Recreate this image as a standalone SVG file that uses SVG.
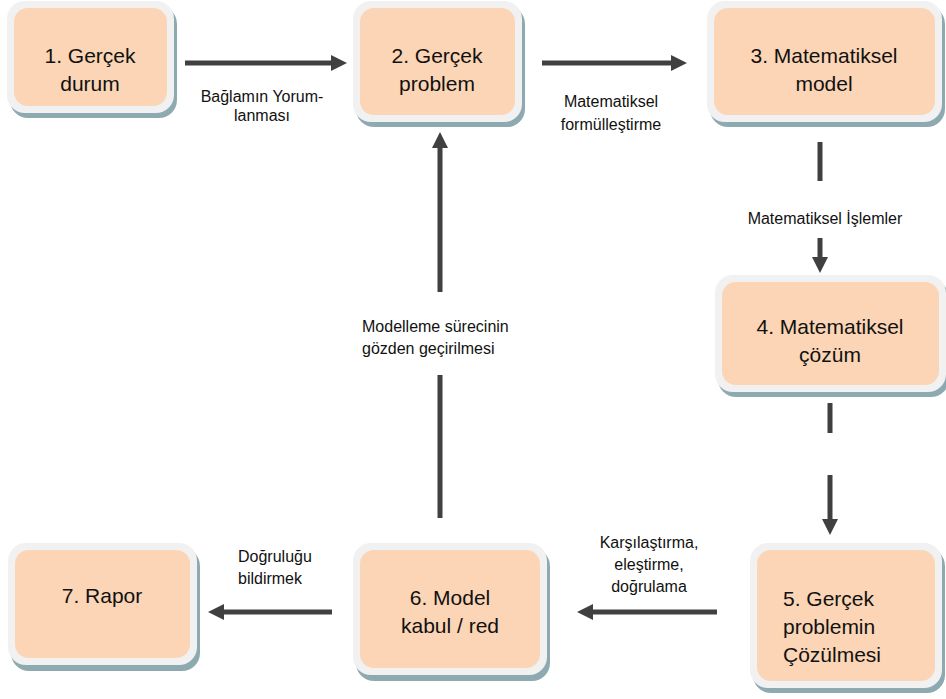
<svg xmlns="http://www.w3.org/2000/svg" width="946" height="699" viewBox="0 0 946 699">
<style>
.sh{fill:#8eaab1}
.fr{fill:#f1f1f1}
.in{fill:#fbd5b5}
.nt{font-family:"Liberation Sans",Arial,sans-serif;font-size:21px;fill:#111;text-anchor:middle}
.lb{font-family:"Liberation Sans",Arial,sans-serif;font-size:16px;fill:#111;text-anchor:middle}
text.nl{text-anchor:start}
.ln{stroke:#404040;stroke-width:5;fill:none}
.ah{marker-end:url(#head)}
</style>
<defs>
<marker id="head" markerUnits="userSpaceOnUse" markerWidth="16" markerHeight="16" refX="1" refY="8" orient="auto">
<path d="M0,0 L16,8 L0,16 Z" fill="#404040"/>
</marker>
</defs>
<rect width="946" height="699" fill="#fff"/>

<g id="n1">
<rect class="sh" x="10" y="6" width="167" height="112" rx="18"/>
<rect class="fr" x="7" y="1" width="167" height="112" rx="18"/>
<rect class="in" x="14" y="8" width="153" height="98" rx="14"/>
<text class="nt" x="90" y="63">1. Gerçek</text>
<text class="nt" x="90" y="91">durum</text>
</g>

<g id="n2">
<rect class="sh" x="356" y="6" width="169" height="121" rx="18"/>
<rect class="fr" x="353" y="1" width="169" height="121" rx="18"/>
<rect class="in" x="360" y="8" width="155" height="107" rx="14"/>
<text class="nt" x="437" y="63">2. Gerçek</text>
<text class="nt" x="437" y="91">problem</text>
</g>

<g id="n3">
<rect class="sh" x="710" y="6" width="235" height="121" rx="18"/>
<rect class="fr" x="707" y="1" width="235" height="121" rx="18"/>
<rect class="in" x="714" y="8" width="221" height="107" rx="14"/>
<text class="nt" x="824" y="63">3. Matematiksel</text>
<text class="nt" x="824" y="91">model</text>
</g>

<g id="n4">
<rect class="sh" x="718" y="280" width="231" height="117" rx="18"/>
<rect class="fr" x="715" y="275" width="231" height="117" rx="18"/>
<rect class="in" x="722" y="282" width="217" height="103" rx="14"/>
<text class="nt" x="830" y="334">4. Matematiksel</text>
<text class="nt" x="830" y="362">çözüm</text>
</g>

<g id="n5">
<rect class="sh" x="753" y="548" width="192" height="145" rx="18"/>
<rect class="fr" x="750" y="543" width="192" height="145" rx="18"/>
<rect class="in" x="757" y="550" width="178" height="131" rx="14"/>
<text class="nt nl" x="783" y="606">5. Gerçek</text>
<text class="nt nl" x="783" y="634">problemin</text>
<text class="nt nl" x="783" y="662">Çözülmesi</text>
</g>

<g id="n6">
<rect class="sh" x="356" y="548" width="194" height="133" rx="18"/>
<rect class="fr" x="353" y="543" width="194" height="132" rx="18"/>
<rect class="in" x="360" y="550" width="180" height="118" rx="14"/>
<text class="nt" x="450" y="605">6. Model</text>
<text class="nt" x="450" y="633">kabul / red</text>
</g>

<g id="n7">
<rect class="sh" x="11" y="548" width="189" height="123" rx="18"/>
<rect class="fr" x="8" y="543" width="189" height="122" rx="18"/>
<rect class="in" x="15" y="550" width="175" height="108" rx="14"/>
<text class="nt" x="102" y="603">7. Rapor</text>
</g>

<g id="connectors">
<line class="ln ah" x1="185" y1="63" x2="332" y2="63"/>
<line class="ln ah" x1="542" y1="63" x2="672" y2="63"/>
<line class="ln" x1="820" y1="142" x2="820" y2="181"/>
<line class="ln ah" x1="820" y1="238" x2="820" y2="258"/>
<line class="ln" x1="830" y1="403" x2="830" y2="433"/>
<line class="ln ah" x1="830" y1="475" x2="830" y2="520"/>
<line class="ln ah" x1="717" y1="612" x2="592" y2="612"/>
<line class="ln ah" x1="332" y1="612" x2="223" y2="612"/>
<line class="ln" x1="440" y1="518" x2="440" y2="375"/>
<line class="ln ah" x1="440" y1="292" x2="440" y2="147"/>
</g>

<g id="labels">
<text class="lb" x="262" y="102">Bağlamın Yorum-</text>
<text class="lb" x="262" y="121">lanması</text>
<text class="lb" x="611" y="107">Matematiksel</text>
<text class="lb" x="611" y="130">formülleştirme</text>
<text class="lb" x="825" y="224">Matematiksel İşlemler</text>
<text class="lb" x="649" y="548">Karşılaştırma,</text>
<text class="lb" x="649" y="570">eleştirme,</text>
<text class="lb" x="649" y="592">doğrulama</text>
<text class="lb nl" x="238" y="562">Doğruluğu</text>
<text class="lb nl" x="238" y="584">bildirmek</text>
<text class="lb nl" x="362" y="332">Modelleme sürecinin</text>
<text class="lb nl" x="362" y="354">gözden geçirilmesi</text>
</g>
</svg>
